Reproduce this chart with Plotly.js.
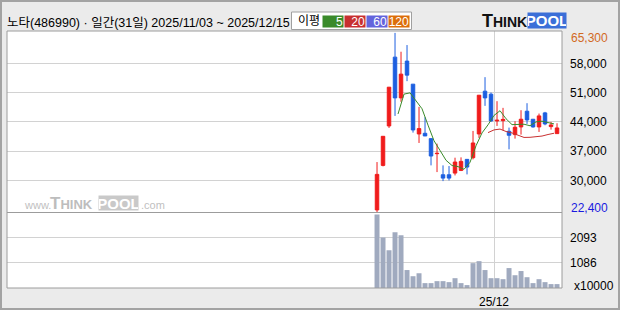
<!DOCTYPE html>
<html><head><meta charset="utf-8">
<script src="https://cdn.plot.ly/plotly-3.0.1.min.js"></script>
<style>
html,body{margin:0;padding:0;background:#ebebeb;}
#wrap{position:relative;width:620px;height:310px;}
#chart{width:620px;height:310px;}
#frame{position:absolute;left:0;top:0;width:620px;height:310px;box-sizing:border-box;border:2px solid #a3a3a3;pointer-events:none;}
</style></head><body>
<div id="wrap"><div id="chart"></div><div id="frame"></div></div>
<script>
// ---- data ----
const dates = ['11/03','11/04','11/05','11/06','11/07','11/10','11/11','11/12','11/13','11/14',
  '11/17','11/18','11/19','11/20','11/21','11/24','11/25','11/26','11/27','11/28',
  '12/01','12/02','12/03','12/04','12/05','12/08','12/09','12/10','12/11','12/12','12/15'];
const openP  = [22950,33600,43040,59500,49750,58550,53030,41120,41280,40000,36400,31360,31360,31760,32400,35040,35440,41120,51350,50630,44240,44300,41760,40960,42800,46560,44640,42800,46160,42880,41200];
const highP  = [34400,40560,52310,65300,60790,62390,53030,47600,45120,40000,38800,33600,33440,35440,35520,35040,41840,50390,54710,51030,48960,47360,42640,44160,46800,48480,44640,46000,46400,44000,43680];
const lowP   = [22400,33360,42560,45440,48800,53750,41440,38960,40640,33600,32000,29840,30000,31200,32240,31440,35040,40160,47840,44000,43040,42000,37440,40000,40960,43520,42640,41600,43200,42160,41200];
const closeP = [31450,40560,52310,49750,55430,55190,42080,42400,40640,35840,36480,30560,30560,34400,34560,33200,38960,50390,49750,44240,44400,44600,40800,42720,44640,44480,42800,45440,43520,43280,42560];
// 5-day MA from the 5th session, 20-day MA from the 20th session
const ma5  = [45900,50650,50950,48970,47150,43230,39490,37180,34820,33570,33310,32660,34340,38300,41370,43310,45550,46680,44760,43350,43430,43450,43090,44010,44170,43900,43520];
const ma20 = [41440,42090,42290,41710,41360,40820,40290,40320,40470,40620,40990,41290];
// volume, x10000 shares
const volume = [3030,2100,1580,2310,2190,780,530,650,250,250,330,330,290,450,250,170,1060,1140,780,450,450,410,860,570,740,490,250,410,290,210,210];
const priceTicks = [58000,51000,44000,37000,30000];
const priceTickText = ['58,000','51,000','44,000','37,000','30,000'];
const volTicks = [2093,1086];
const volTickText = ['2093','1086'];
const periodHigh = 65300, periodLow = 22400;
const monthLabel = '25/12', monthStart = '12/01';
const maNames = ['5','20','60','120'];

// ---- layout helpers (pixel -> paper) ----
const W=620,H=310,ML=7,MR=58,MT=31,MB=22;
const PW=W-ML-MR, PH=H-MT-MB;
const px=v=>(v-ML)/PW, py=v=>(H-MB-v)/PH;
const split = py(212.5);

const idx = dates.map((d,i)=>i);
const ma5x = ma5.map((v,i)=>i+4-0.5);
const ma20x = ma20.map((v,i)=>i+19-0.5);

const F='Liberation Sans, Noto Sans CJK KR, sans-serif';

const traces = [
  {type:'candlestick', x:idx, open:openP, high:highP, low:lowP, close:closeP, xaxis:'x', yaxis:'y',
   increasing:{line:{color:'#f01c1c',width:1},fillcolor:'#f01c1c'},
   decreasing:{line:{color:'#1d5fe0',width:1},fillcolor:'#1d5fe0'},
   whiskerwidth:0, showlegend:false},
  {type:'scatter', mode:'lines', x:ma5x, y:ma5, xaxis:'x', yaxis:'y', line:{color:'#3a8a2a',width:1}, showlegend:false},
  {type:'scatter', mode:'lines', x:ma20x, y:ma20, xaxis:'x', yaxis:'y', line:{color:'#c83030',width:1}, showlegend:false},
  {type:'bar', x:idx, y:volume, xaxis:'x', yaxis:'y2', marker:{color:'#a0aabf',line:{width:0}}, width:0.83, showlegend:false}
];

const ann = [];
// legend "이평"
ann.push({text:'이평', xref:'paper', yref:'paper', x:px(296), y:py(21), xanchor:'left', yanchor:'middle', showarrow:false, font:{family:F,size:12,color:'#000'}});
const boxCols=['#3a8a2a','#c83030','#6464dc','#dc6e0a'];
const boxX=[322,343.7,366,387.7];
maNames.forEach((n,i)=>ann.push({text:n, xref:'paper', yref:'paper', x:px(boxX[i]), y:py(21.2), xanchor:'left', yanchor:'middle', showarrow:false,
  width:20, height:11, align:'right', valign:'middle', bgcolor:boxCols[i], borderpad:0, font:{family:F,size:12,color:'#fff'}}));
// logo top-right
ann.push({text:'T<span style="font-size:14px">HINK</span>', xref:'paper', yref:'paper', x:px(480), y:py(21), xanchor:'left', yanchor:'middle', showarrow:false, font:{family:'Liberation Sans',size:18,color:'#111',weight:'bold'}});
ann.push({text:'POOL', xref:'paper', yref:'paper', x:px(527), y:py(21), xanchor:'left', yanchor:'middle', showarrow:false, width:38, height:15, bgcolor:'#3b6fd8', borderpad:0, font:{family:'Liberation Sans',size:15,color:'#fff',weight:'bold'}});
// watermark
ann.push({text:'www.', xref:'paper', yref:'paper', x:px(22), y:py(205), xanchor:'left', yanchor:'middle', showarrow:false, font:{family:F,size:11,color:'#bfbfbf'}});
ann.push({text:'T<span style="font-size:13px">HINK</span>', xref:'paper', yref:'paper', x:px(47.5), y:py(203), xanchor:'left', yanchor:'middle', showarrow:false, font:{family:'Liberation Sans',size:17,color:'#bdbdbd',weight:'bold'}});
ann.push({text:'POOL', xref:'paper', yref:'paper', x:px(98), y:py(202.5), xanchor:'left', yanchor:'middle', showarrow:false, width:39, height:14, bgcolor:'#c9c9c9', borderpad:0, font:{family:'Liberation Sans',size:15,color:'#fff',weight:'bold'}});
ann.push({text:'.com', xref:'paper', yref:'paper', x:px(138.5), y:py(205), xanchor:'left', yanchor:'middle', showarrow:false, font:{family:F,size:11,color:'#bfbfbf'}});
// period high / low labels and unit
ann.push({text:'65,300', xref:'paper', yref:'y', x:1, y:periodHigh, xanchor:'left', yanchor:'middle', xshift:7, yshift:-5.4, showarrow:false, font:{family:F,size:12,color:'#d2691e'}});
ann.push({text:'22,400', xref:'paper', yref:'y', x:1, y:periodLow, xanchor:'left', yanchor:'middle', xshift:7, yshift:4.4, showarrow:false, font:{family:F,size:12,color:'#1a1ae0'}});
ann.push({text:'x10000', xref:'paper', yref:'paper', x:1, y:0, xanchor:'left', yanchor:'middle', xshift:10, yshift:2, showarrow:false, font:{family:F,size:12,color:'#000'}});

const layout = {
  width:W, height:H, margin:{l:ML,r:MR,t:MT,b:MB,pad:0},
  paper_bgcolor:'#ebebeb', plot_bgcolor:'#ffffff',
  title:{text:'노타(486990) · 일간(31일) 2025/11/03 ~ 2025/12/15', xref:'container', yref:'container', x:7/W, y:1-22.5/H, xanchor:'left', yanchor:'middle', font:{family:F,size:12.5,color:'#000'}},
  showlegend:false, hovermode:false, boxgap:0.17,
  xaxis:{domain:[0,1], range:[-61.67,30.83], anchor:'y2', tickvals:[dates.indexOf(monthStart)-0.5], ticktext:[monthLabel],
    showgrid:true, gridcolor:'#d2d2d2', gridwidth:1, zeroline:false, showline:false, ticks:'', ticklabelstandoff:5,
    tickfont:{family:F,size:12,color:'#000'}, rangeslider:{visible:false}, fixedrange:true},
  yaxis:{domain:[split,1], range:[22330,65750], side:'right', anchor:'x', tickvals:priceTicks, ticktext:priceTickText,
    showgrid:true, gridcolor:'#d2d2d2', gridwidth:1, zeroline:false, ticks:'', ticklabelstandoff:7,
    tickfont:{family:F,size:12,color:'#000'}, fixedrange:true},
  yaxis2:{domain:[0,split], range:[52,3113], side:'right', anchor:'x', tickvals:volTicks, ticktext:volTickText,
    showgrid:true, gridcolor:'#d2d2d2', gridwidth:1, zeroline:false, ticks:'', ticklabelstandoff:7,
    tickfont:{family:F,size:12,color:'#000'}, fixedrange:true},
  shapes:[
    {type:'rect', xref:'paper', yref:'paper', x0:0, x1:1, y0:0, y1:1, line:{color:'#9c9c9c',width:1}, layer:'above'},
    {type:'line', xref:'paper', yref:'paper', x0:0, x1:1, y0:split, y1:split, line:{color:'#9c9c9c',width:1}, layer:'above'},
    {type:'rect', xref:'paper', yref:'paper', x0:px(291.5), x1:px(411.5), y0:py(29.5), y1:py(12), fillcolor:'#ffffff', line:{color:'#a0a0a0',width:1}, layer:'below'}
  ],
  annotations:ann
};
Plotly.newPlot('chart', traces, layout, {staticPlot:true, displayModeBar:false});
</script>
</body></html>
